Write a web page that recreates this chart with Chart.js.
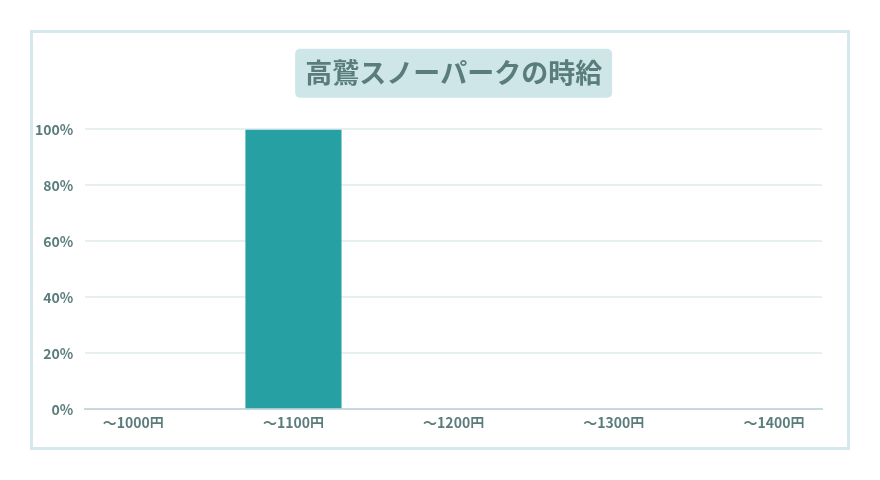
<!DOCTYPE html>
<html>
<head>
<meta charset="utf-8">
<script src="https://cdn.jsdelivr.net/npm/chart.js@4"></script>
<style>
  html, body { margin: 0; padding: 0; background: #ffffff; }
  #frame {
    position: absolute; left: 30px; top: 30px;
    width: 814px; height: 414px;
    border: 3px solid #d5e8eb;
  }
  #wageChart { position: absolute; left: 23px; top: 33px; display: block; }
</style>
</head>
<body>
<div id="frame"></div>
<canvas id="wageChart" width="822" height="414"></canvas>
<script>
const titleText = "高鷲スノーパークの時給";
const wageLabels = ["〜1000円", "〜1100円", "〜1200円", "〜1300円", "〜1400円"];
const wageShare = [0, 100, 0, 0, 0];
const yTicks = [0, 20, 40, 60, 80, 100];

const textColor = "#5a7d7c";
const fontFamily = "'Noto Sans CJK JP', 'Noto Sans', sans-serif";
const titleSize = 27;
const titlePadTop = 24;

// draws the rounded box behind the title text
const titleBox = {
    id: "titleBox",
    beforeDraw(chart) {
        const tb = chart.titleBlock;
        if (!tb) return;
        const ctx = chart.ctx;
        ctx.save();
        ctx.font = "bold " + titleSize + "px " + fontFamily;
        const w = ctx.measureText(titleText).width + 20;
        const h = 49;
        const cx = (tb.left + tb.right) / 2;
        const cy = tb.top + titlePadTop + titleSize * 1.2 / 2;
        ctx.fillStyle = "#cfe6e9";
        ctx.beginPath();
        ctx.roundRect(cx - w / 2, cy - h / 2, w, h, 5);
        ctx.fill();
        ctx.restore();
    }
};

new Chart(document.getElementById("wageChart"), {
    type: "bar",
    data: {
        datasets: [{
            data: wageShare.map((v, i) => ({ x: i, y: v })),
            backgroundColor: "#26a0a3",
            barPercentage: 0.75,
            categoryPercentage: 0.8
        }]
    },
    options: {
        responsive: false,
        animation: false,
        layout: { padding: { left: 0, right: 23, bottom: 19 } },
        plugins: {
            legend: { display: false },
            tooltip: { enabled: false },
            title: {
                display: true,
                fullSize: false,
                text: titleText,
                color: textColor,
                font: { family: fontFamily, size: titleSize, weight: "bold" },
                padding: { top: titlePadTop, bottom: 40 }
            }
        },
        scales: {
            x: {
                type: "linear",
                offset: false,
                min: -0.3,
                max: wageLabels.length - 0.7,
                afterBuildTicks(axis) { axis.ticks = wageLabels.map((_, i) => ({ value: i })); },
                grid: { display: false, offset: false },
                border: { color: "#c8dadc", width: 2 },
                ticks: {
                    color: textColor,
                    font: { family: fontFamily, size: 14, weight: "bold" },
                    padding: -3,
                    maxRotation: 0,
                    callback: v => wageLabels[v]
                }
            },
            y: {
                min: 0,
                max: 100,
                afterBuildTicks(axis) { axis.ticks = yTicks.map(v => ({ value: v })); },
                grid: { color: "#e7eff0", lineWidth: 2, drawTicks: false },
                border: { display: false },
                ticks: {
                    color: textColor,
                    font: { family: fontFamily, size: 14, weight: "bold" },
                    padding: 12,
                    callback: v => v + "%"
                }
            }
        }
    },
    plugins: [titleBox]
});
</script>
</body>
</html>
